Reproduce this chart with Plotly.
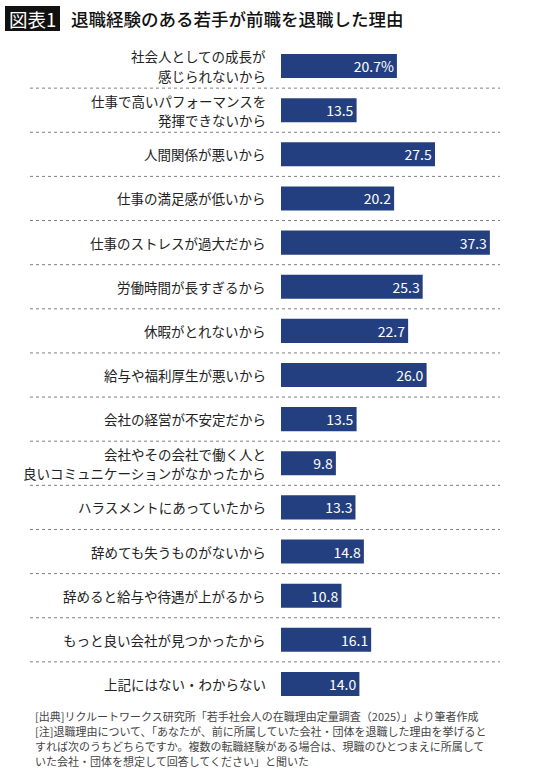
import plotly.graph_objects as go

labels = [
    "社会人としての成長が\n感じられないから",
    "仕事で高いパフォーマンスを\n発揮できないから",
    "人間関係が悪いから",
    "仕事の満足感が低いから",
    "仕事のストレスが過大だから",
    "労働時間が長すぎるから",
    "休暇がとれないから",
    "給与や福利厚生が悪いから",
    "会社の経営が不安定だから",
    "会社やその会社で働く人と\n良いコミュニケーションがなかったから",
    "ハラスメントにあっていたから",
    "辞めても失うものがないから",
    "辞めると給与や待遇が上がるから",
    "もっと良い会社が見つかったから",
    "上記にはない・わからない",
]
values = [20.7, 13.5, 27.5, 20.2, 37.3, 25.3, 22.7, 26.0, 13.5, 9.8, 13.3, 14.8, 10.8, 16.1, 14.0]

title_tag = "図表1"
title_text = "退職経験のある若手が前職を退職した理由"
footer_lines = [
    "[出典]リクルートワークス研究所「若手社会人の在職理由定量調査（2025）」より筆者作成",
    "[注]退職理由について、「あなたが、前に所属していた会社・団体を退職した理由を挙げると",
    "すれば次のうちどちらですか。複数の転職経験がある場合は、現職のひとつまえに所属して",
    "いた会社・団体を想定して回答してください」と聞いた",
]

FONT = "Noto Sans CJK JP"
W, H = 540, 778
L, R, T, B = 281, 35, 44, 72
PW, PH = W - L - R, H - T - B


def px_x(px):
    return (px - L) / PW


def px_y(py):
    return (H - B - py) / PH


n = len(labels)
ys = list(range(n))
texts = [f"{v:.1f}" + ("%" if i == 0 else "") for i, v in enumerate(values)]

fig = go.Figure()
fig.add_trace(go.Bar(
    x=values, y=ys, orientation="h",
    marker=dict(color="#243f7f", line=dict(width=0)),
    width=0.545,
    text=texts, textposition="inside", insidetextanchor="end",
    textangle=0, constraintext="none",
    textfont=dict(color="white", size=14, family=FONT),
    cliponaxis=False, hoverinfo="skip",
))

shapes = []
for i in range(n - 1):
    shapes.append(dict(type="line", xref="paper", yref="y",
                       x0=px_x(30), x1=px_x(500), y0=i + 0.5, y1=i + 0.5,
                       line=dict(color="#808080", width=1, dash="dot")))
# title tag box
shapes.append(dict(type="rect", xref="paper", yref="paper",
                   x0=px_x(5), x1=px_x(60), y0=px_y(31), y1=px_y(6),
                   fillcolor="#111111", line=dict(width=0)))

annotations = []
for i, lab in enumerate(labels):
    parts = lab.split("\n")
    k = len(parts)
    for j, p in enumerate(parts):
        annotations.append(dict(
            x=px_x(268), xref="paper", y=i, yref="y",
            text=p, showarrow=False, xanchor="right", yanchor="middle",
            yshift=((k - 1) / 2 - j) * 19.3,
            font=dict(family=FONT, size=13.5, color="#222222"),
        ))

annotations.append(dict(x=px_x(32.5), y=px_y(18.5), xref="paper", yref="paper",
                        text=title_tag, showarrow=False, xanchor="center", yanchor="middle",
                        font=dict(family=FONT, size=18.5, color="white")))
annotations.append(dict(x=px_x(69), y=px_y(18.5), xref="paper", yref="paper",
                        text=title_text, showarrow=False, xanchor="left", yanchor="middle",
                        font=dict(family=FONT, size=17.5, color="#111111", weight=500)))

for j, line in enumerate(footer_lines):
    annotations.append(dict(x=px_x(33), y=px_y(716 + 15.1 * j), xref="paper", yref="paper",
                            text=line, showarrow=False, xanchor="left", yanchor="middle",
                            font=dict(family=FONT, size=11, color="#444444")))

fig.update_layout(
    width=W, height=H,
    margin=dict(l=L, r=R, t=T, b=B, pad=0),
    paper_bgcolor="white", plot_bgcolor="white",
    showlegend=False,
    xaxis=dict(range=[0, 40], visible=False, fixedrange=True),
    yaxis=dict(range=[n - 0.5, -0.5], visible=False, fixedrange=True),
    shapes=shapes, annotations=annotations,
    font=dict(family=FONT),
)

fig.write_html("out.html", config={"displayModeBar": False})
